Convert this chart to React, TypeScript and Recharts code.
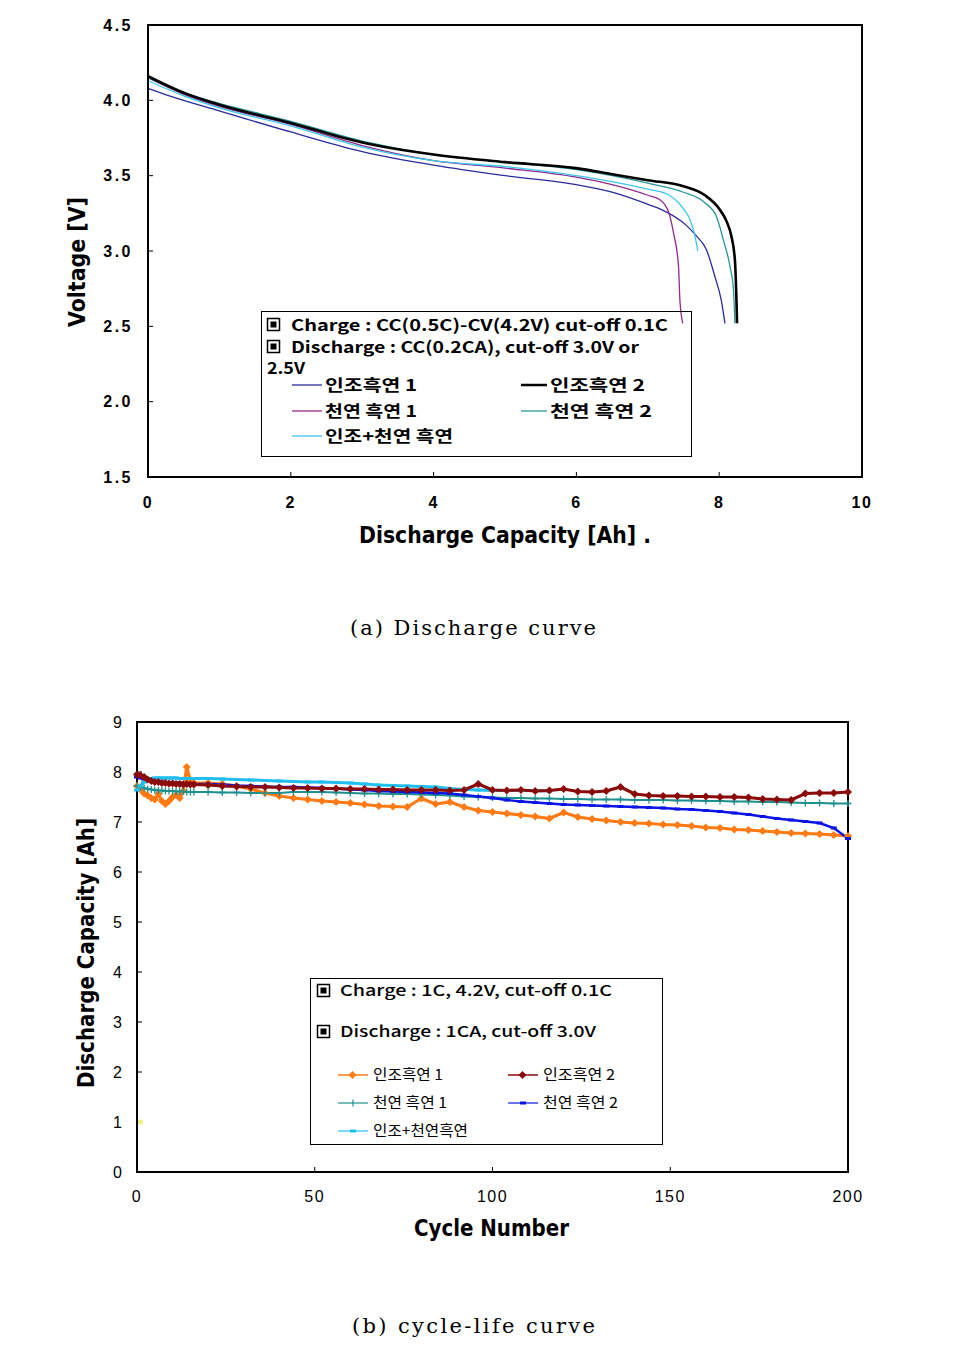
import React from 'react';
import { LineChart, Line, XAxis, YAxis, ReferenceArea } from 'recharts';

// (a) discharge curves, [capacity Ah, voltage V]
const artificial1 = [[0, 4.08], [0.3, 4.03], [1, 3.93], [2, 3.79], [3, 3.66], [4, 3.57], [5, 3.5], [6, 3.44], [6.5, 3.39], [7, 3.31], [7.17, 3.28], [7.54, 3.17], [7.68, 3.1], [7.82, 3.01], [7.94, 2.83], [8.03, 2.67], [8.08, 2.52]];
const artificial2 = [[0, 4.16], [0.5, 4.05], [1, 3.97], [2, 3.85], [3, 3.72], [4, 3.64], [5, 3.59], [6, 3.55], [6.5, 3.51], [7, 3.47], [7.5, 3.43], [7.8, 3.37], [8.0, 3.28], [8.1, 3.2], [8.17, 3.1], [8.22, 2.94], [8.24, 2.7], [8.25, 2.52]];
const natural1 = [[0, 4.15], [0.5, 4.04], [1, 3.96], [2, 3.84], [3, 3.7], [4, 3.6], [5, 3.55], [6, 3.49], [6.5, 3.44], [7, 3.37], [7.17, 3.34], [7.29, 3.26], [7.36, 3.12], [7.43, 2.9], [7.45, 2.67], [7.49, 2.52]];
const natural2 = [[0, 4.15], [0.5, 4.05], [1, 3.98], [2, 3.86], [3, 3.73], [4, 3.64], [5, 3.59], [6, 3.54], [6.5, 3.5], [7, 3.45], [7.5, 3.39], [7.8, 3.32], [7.96, 3.23], [8.06, 3.07], [8.15, 2.9], [8.2, 2.74], [8.22, 2.52]];
const blended = [[0, 4.13], [0.5, 4.03], [1, 3.95], [2, 3.83], [3, 3.69], [4, 3.6], [5, 3.56], [6, 3.5], [6.5, 3.46], [7, 3.41], [7.26, 3.38], [7.5, 3.28], [7.59, 3.21], [7.66, 3.1], [7.7, 3.0]];

const capTicks = [0, 2, 4, 6, 8, 10];
const voltTicks = [1.5, 2.0, 2.5, 3.0, 3.5, 4.0, 4.5];

// (b) cycle life, discharge capacity Ah per cycle
const cycles = [0, 1, 2, 3, 4, 5, 6, 7, 8, 9, 10, 11, 12, 13, 14, 15, 16, 20, 24, 28, 32, 36, 40, 44, 48, 52, 56, 60, 64, 68, 72, 76, 80, 84, 88, 92, 96, 100, 104, 108, 112, 116, 120, 124, 128, 132, 136, 140, 144, 148, 152, 156, 160, 164, 168, 172, 176, 180, 184, 188, 192, 196, 200];
const capArt1 = [7.72, 7.65, 7.57, 7.53, 7.48, 7.45, 7.56, 7.42, 7.36, 7.42, 7.5, 7.54, 7.48, 7.62, 8.1, 7.82, 7.78, 7.78, 7.76, 7.72, 7.66, 7.58, 7.52, 7.48, 7.45, 7.42, 7.4, 7.38, 7.35, 7.32, 7.31, 7.3, 7.47, 7.36, 7.4, 7.3, 7.23, 7.2, 7.17, 7.14, 7.11, 7.07, 7.19, 7.1, 7.06, 7.03, 7.0, 6.98, 6.97, 6.95, 6.94, 6.92, 6.89, 6.88, 6.85, 6.84, 6.82, 6.8, 6.78, 6.77, 6.76, 6.74, 6.72];
const capArt2 = [7.95, 7.93, 7.9, 7.85, 7.82, 7.8, 7.8, 7.78, 7.78, 7.77, 7.77, 7.76, 7.76, 7.75, 7.76, 7.75, 7.75, 7.74, 7.72, 7.71, 7.7, 7.7, 7.69, 7.68, 7.68, 7.67, 7.67, 7.66, 7.66, 7.65, 7.65, 7.64, 7.64, 7.64, 7.63, 7.64, 7.76, 7.64, 7.63, 7.64, 7.62, 7.63, 7.66, 7.61, 7.6, 7.62, 7.7, 7.56, 7.53, 7.52, 7.52, 7.51, 7.51, 7.5, 7.5, 7.49, 7.46, 7.45, 7.44, 7.57, 7.58, 7.58, 7.6];
const capNat1 = [7.72, 7.7, 7.68, 7.66, 7.65, 7.64, 7.63, 7.63, 7.62, 7.62, 7.62, 7.61, 7.61, 7.61, 7.6, 7.6, 7.6, 7.6, 7.59, 7.59, 7.58, 7.58, 7.58, 7.6, 7.6, 7.6, 7.59, 7.58, 7.57, 7.57, 7.56, 7.56, 7.55, 7.54, 7.53, 7.51, 7.5, 7.49, 7.48, 7.48, 7.47, 7.47, 7.46, 7.46, 7.45, 7.45, 7.45, 7.44, 7.44, 7.44, 7.43, 7.43, 7.42, 7.42, 7.41, 7.41, 7.4, 7.4, 7.39, 7.38, 7.38, 7.37, 7.37];
const capNat2 = [7.9, 7.88, 7.86, 7.84, 7.82, 7.81, 7.8, 7.8, 7.79, 7.79, 7.78, 7.78, 7.78, 7.77, 7.77, 7.77, 7.76, 7.76, 7.75, 7.73, 7.72, 7.71, 7.7, 7.7, 7.69, 7.68, 7.67, 7.65, 7.64, 7.62, 7.61, 7.6, 7.59, 7.58, 7.57, 7.54, 7.51, 7.48, 7.44, 7.41, 7.39, 7.37, 7.35, 7.34, 7.33, 7.32, 7.31, 7.3, 7.29, 7.28, 7.26, 7.25, 7.23, 7.21, 7.18, 7.15, 7.11, 7.07, 7.04, 7.01, 6.98, 6.88, 6.67];
const capBlend = [7.64, 7.72, 7.8, 7.85, 7.87, 7.88, 7.88, 7.88, 7.88, 7.88, 7.88, 7.88, 7.87, 7.87, 7.87, 7.87, 7.87, 7.87, 7.86, 7.85, 7.84, 7.83, 7.82, 7.81, 7.8, 7.8, 7.79, 7.78, 7.76, 7.74, 7.73, 7.72, 7.71, 7.7, 7.67, 7.65, 7.64, 7.63, 7.63, 7.63, 7.63, 7.62, null, null, null, null, null, null, null, null, null, null, null, null, null, null, null, null, null, null, null, null, null];
const strayPoint = [{ cycle: 1, cap: 1.0 }];

const cycleTicks = [0, 50, 100, 150, 200];
const capTicksB = [0, 1, 2, 3, 4, 5, 6, 7, 8, 9];

const toPts = (arr: number[][]) => arr.map(([x, v]) => ({ x, v }));

const cycleRows = cycles.map((c, i) => ({
  cycle: c,
  a1: capArt1[i],
  a2: capArt2[i],
  n1: capNat1[i],
  n2: capNat2[i],
  bl: capBlend[i],
}));

const C = {
  blue: '#2a2a9c',
  black: '#000000',
  purple: '#902a90',
  teal: '#2a9696',
  cyan: '#38c8ec',
  orange: '#ff7a12',
  darkred: '#8a0a0a',
  tealB: '#1d8f8f',
  blueB: '#0a14e6',
  cyanB: '#20bff0',
};

const tickFont = { fontSize: 16, fill: '#000', fontFamily: 'Liberation Sans, Arial, sans-serif' };
const titleFont = "'Liberation Sans Narrow', 'DejaVu Sans Condensed', sans-serif";
const krFont = "'Noto Sans CJK KR', sans-serif";
const serif = "'DejaVu Serif', 'Liberation Serif', serif";

const diamond = (color: string, r = 4) => (p: any) => {
  if (p.cy == null || p.cx == null) return <g key={`d${p.index}`} />;
  const { cx, cy } = p;
  return <path key={`d${p.index}`} d={`M${cx},${cy - r}L${cx + r},${cy}L${cx},${cy + r}L${cx - r},${cy}Z`} fill={color} />;
};
const plus = (color: string) => (p: any) => {
  if (p.cy == null || p.cx == null) return <g key={`p${p.index}`} />;
  const { cx, cy } = p;
  return <path key={`p${p.index}`} d={`M${cx - 3.5},${cy}H${cx + 3.5}M${cx},${cy - 3.5}V${cy + 3.5}`} stroke={color} strokeWidth={1.3} />;
};
const dash = (color: string) => (p: any) => {
  if (p.cy == null || p.cx == null) return <g key={`s${p.index}`} />;
  const { cx, cy } = p;
  return <rect key={`s${p.index}`} x={cx - 3} y={cy - 1.5} width={6} height={3} fill={color} />;
};

function Box({ x, y }: { x: number; y: number }) {
  return (
    <g>
      <rect x={x + 0.5} y={y + 0.5} width={12} height={12} fill="none" stroke="#000" strokeWidth={1.5} />
      <rect x={x + 3.5} y={y + 3.5} width={6} height={6} fill="#000" />
    </g>
  );
}

function Overlay() {
  const legText = { fontFamily: krFont, fontSize: 16, fontWeight: 700, fill: '#000' } as const;
  const legTextB = { fontFamily: krFont, fontSize: 15, fill: '#000' } as const;
  return (
    <svg width={974} height={1369} style={{ position: 'absolute', left: 0, top: 0, pointerEvents: 'none' }}>
      {/* titles (a) */}
      <text x={0} y={0} transform="translate(85,262) rotate(-90)" textAnchor="middle" fontFamily={titleFont} fontWeight={700} fontSize={23} textLength={130} lengthAdjust="spacingAndGlyphs">Voltage [V]</text>
      <text x={359} y={543} fontFamily={titleFont} fontWeight={700} fontSize={23} textLength={292} lengthAdjust="spacingAndGlyphs">Discharge Capacity [Ah] .</text>
      <text x={350} y={635} fontFamily={serif} fontSize={21} textLength={246} lengthAdjust="spacing">(a) Discharge curve</text>

      {/* legend (a) */}
      <rect x={261.5} y={311.5} width={430} height={145} fill="none" stroke="#000" strokeWidth={1} />
      <Box x={267} y={318} />
      <text x={291} y={331} {...legText} textLength={377} lengthAdjust="spacingAndGlyphs">Charge : CC(0.5C)-CV(4.2V) cut-off 0.1C</text>
      <Box x={267} y={340} />
      <text x={291} y={353} {...legText} textLength={348} lengthAdjust="spacingAndGlyphs">Discharge : CC(0.2CA), cut-off 3.0V or</text>
      <text x={267} y={374} {...legText} textLength={38} lengthAdjust="spacingAndGlyphs">2.5V</text>
      <line x1={292} x2={322} y1={385} y2={385} stroke={C.blue} strokeWidth={1.3} />
      <text x={325} y={391} {...legText} textLength={92} lengthAdjust="spacingAndGlyphs">인조흑연 1</text>
      <line x1={521} x2={547} y1={385} y2={385} stroke={C.black} strokeWidth={2.5} />
      <text x={550} y={391} {...legText} textLength={95} lengthAdjust="spacingAndGlyphs">인조흑연 2</text>
      <line x1={292} x2={322} y1={411} y2={411} stroke={C.purple} strokeWidth={1.3} />
      <text x={325} y={417} {...legText} textLength={92} lengthAdjust="spacingAndGlyphs">천연 흑연 1</text>
      <line x1={521} x2={547} y1={411} y2={411} stroke={C.teal} strokeWidth={1.3} />
      <text x={550} y={417} {...legText} textLength={102} lengthAdjust="spacingAndGlyphs">천연 흑연 2</text>
      <line x1={292} x2={322} y1={436} y2={436} stroke={C.cyan} strokeWidth={1.3} />
      <text x={325} y={442} {...legText} textLength={128} lengthAdjust="spacingAndGlyphs">인조+천연 흑연</text>

      {/* titles (b) */}
      <text x={0} y={0} transform="translate(94,953) rotate(-90)" textAnchor="middle" fontFamily={titleFont} fontWeight={700} fontSize={23} textLength={270} lengthAdjust="spacingAndGlyphs">Discharge Capacity [Ah]</text>
      <text x={414} y={1236} fontFamily={titleFont} fontWeight={700} fontSize={23} textLength={155} lengthAdjust="spacingAndGlyphs">Cycle Number</text>
      <text x={352} y={1333} fontFamily={serif} fontSize={21} textLength={243} lengthAdjust="spacing">(b) cycle-life curve</text>

      {/* legend (b) */}
      <rect x={310.5} y={978.5} width={352} height={166} fill="none" stroke="#000" strokeWidth={1} />
      <Box x={317} y={984} />
      <text x={340} y={996} {...legTextB} fontWeight={500} textLength={272} lengthAdjust="spacingAndGlyphs">Charge : 1C, 4.2V, cut-off 0.1C</text>
      <Box x={317} y={1025} />
      <text x={340} y={1037} {...legTextB} fontWeight={500} textLength={256} lengthAdjust="spacingAndGlyphs">Discharge : 1CA, cut-off 3.0V</text>
      <line x1={338} x2={368} y1={1075} y2={1075} stroke={C.orange} strokeWidth={1.5} />
      <path d="M352.5,1071L356.5,1075L352.5,1079L348.5,1075Z" fill={C.orange} />
      <text x={373} y={1080} {...legTextB} textLength={70} lengthAdjust="spacingAndGlyphs">인조흑연 1</text>
      <line x1={508} x2={538} y1={1075} y2={1075} stroke={C.darkred} strokeWidth={1.5} />
      <path d="M522.5,1071L526.5,1075L522.5,1079L518.5,1075Z" fill={C.darkred} />
      <text x={543} y={1080} {...legTextB} textLength={72} lengthAdjust="spacingAndGlyphs">인조흑연 2</text>
      <line x1={338} x2={368} y1={1103} y2={1103} stroke={C.tealB} strokeWidth={1.2} />
      <path d="M353,1099.5V1106.5" stroke={C.tealB} strokeWidth={1.2} />
      <text x={373} y={1108} {...legTextB} textLength={74} lengthAdjust="spacingAndGlyphs">천연 흑연 1</text>
      <line x1={508} x2={538} y1={1103} y2={1103} stroke={C.blueB} strokeWidth={1.2} />
      <rect x={520} y={1101.5} width={6} height={3} fill={C.blueB} />
      <text x={543} y={1108} {...legTextB} textLength={75} lengthAdjust="spacingAndGlyphs">천연 흑연 2</text>
      <line x1={338} x2={368} y1={1131} y2={1131} stroke={C.cyanB} strokeWidth={1.2} />
      <rect x={350} y={1129.5} width={6} height={3} fill={C.cyanB} />
      <text x={373} y={1136} {...legTextB} textLength={95} lengthAdjust="spacingAndGlyphs">인조+천연흑연</text>
    </svg>
  );
}

function DischargeChart() {
  return (
    <LineChart width={974} height={560} margin={{ top: 25, right: 112, bottom: 0, left: 0 }}>
      <XAxis
        type="number"
        dataKey="x"
        domain={[0, 10]}
        ticks={capTicks}
        height={83}
        axisLine={{ stroke: '#000', strokeWidth: 2 }}
        tickLine={{ stroke: '#000' }}
        tickSize={-5}
        tickMargin={25}
        tick={{ ...tickFont, fontWeight: 700, letterSpacing: 1.5 }}
        allowDuplicatedCategory={false}
      />
      <YAxis
        type="number"
        domain={[1.5, 4.5]}
        ticks={voltTicks}
        width={148}
        axisLine={{ stroke: '#000', strokeWidth: 2 }}
        tickLine={{ stroke: '#000' }}
        tickSize={-5}
        tickMargin={20}
        tickFormatter={(v: number) => v.toFixed(1)}
        tick={{ ...tickFont, fontWeight: 700, letterSpacing: 2.5 }}
      />
      <ReferenceArea x1={0} x2={10} y1={1.5} y2={4.5} fill="none" stroke="#000" strokeWidth={2} />
      <Line data={toPts(artificial1)} dataKey="v" type="monotone" stroke={C.blue} strokeWidth={1.3} dot={false} isAnimationActive={false} />
      <Line data={toPts(natural1)} dataKey="v" type="monotone" stroke={C.purple} strokeWidth={1.3} dot={false} isAnimationActive={false} />
      <Line data={toPts(blended)} dataKey="v" type="monotone" stroke={C.cyan} strokeWidth={1.3} dot={false} isAnimationActive={false} />
      <Line data={toPts(natural2)} dataKey="v" type="monotone" stroke={C.teal} strokeWidth={1.3} dot={false} isAnimationActive={false} />
      <Line data={toPts(artificial2)} dataKey="v" type="monotone" stroke={C.black} strokeWidth={2.6} dot={false} isAnimationActive={false} />
    </LineChart>
  );
}

function CycleChart() {
  return (
    <LineChart width={974} height={520} data={cycleRows} margin={{ top: 25, right: 126, bottom: 0, left: 0 }}>
      <XAxis
        type="number"
        dataKey="cycle"
        domain={[0, 200]}
        ticks={cycleTicks}
        height={45}
        axisLine={{ stroke: '#000', strokeWidth: 2 }}
        tickLine={{ stroke: '#000' }}
        tickSize={-5}
        tickMargin={24}
        tick={{ ...tickFont, letterSpacing: 1.5 }}
      />
      <YAxis
        type="number"
        domain={[0, 9]}
        ticks={capTicksB}
        width={137}
        axisLine={{ stroke: '#000', strokeWidth: 2 }}
        tickLine={{ stroke: '#000' }}
        tickSize={-5}
        tickMargin={20}
        tick={tickFont}
      />
      <ReferenceArea x1={0} x2={200} y1={0} y2={9} fill="none" stroke="#000" strokeWidth={2} />
      <Line dataKey="a1" stroke={C.orange} strokeWidth={3.2} dot={diamond(C.orange, 4)} isAnimationActive={false} />
      <Line dataKey="n1" stroke={C.tealB} strokeWidth={1.8} dot={plus(C.tealB)} isAnimationActive={false} />
      <Line dataKey="n2" stroke={C.blueB} strokeWidth={2.4} dot={dash(C.blueB)} isAnimationActive={false} />
      <Line dataKey="bl" stroke={C.cyanB} strokeWidth={3} dot={dash(C.cyanB)} isAnimationActive={false} />
      <Line dataKey="a2" stroke={C.darkred} strokeWidth={3.2} dot={diamond(C.darkred, 4)} isAnimationActive={false} />
      <Line data={strayPoint} dataKey="cap" stroke="none" dot={{ r: 2.5, fill: '#eef07a', stroke: 'none' }} isAnimationActive={false} />
    </LineChart>
  );
}

export default function App() {
  return (
    <div style={{ position: 'absolute', left: 0, top: 0, width: 974, height: 1369, background: '#fff' }}>
      <div style={{ position: 'absolute', left: 0, top: 0 }}>
        <DischargeChart />
      </div>
      <div style={{ position: 'absolute', left: 0, top: 697 }}>
        <CycleChart />
      </div>
      <Overlay />
    </div>
  );
}
